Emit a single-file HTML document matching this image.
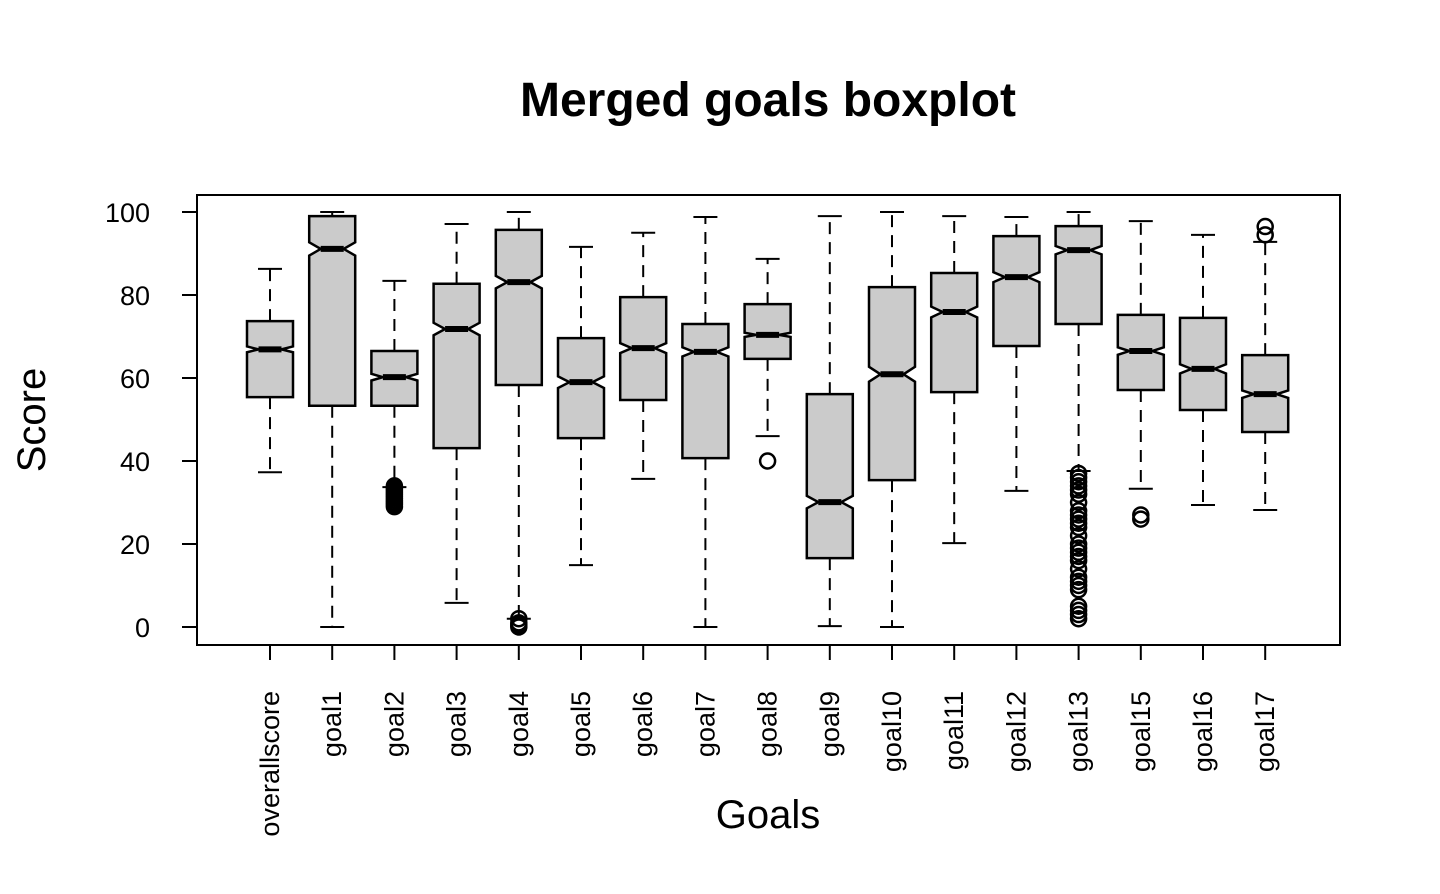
<!DOCTYPE html>
<html><head><meta charset="utf-8"><style>
html,body{margin:0;padding:0;background:#fff;}
svg text{font-family:"Liberation Sans",Arial,sans-serif;fill:#000;}
</style></head><body>
<svg id="chart" width="1440" height="889" viewBox="0 0 1440 889" xmlns="http://www.w3.org/2000/svg">
<rect width="1440" height="889" fill="#fff"/>
<text x="768" y="116" font-size="48" font-weight="bold" text-anchor="middle">Merged goals boxplot</text>
<text x="768" y="828" font-size="40" text-anchor="middle">Goals</text>
<text transform="translate(45,420) rotate(-90)" font-size="40" text-anchor="middle">Score</text>
<rect x="197" y="195" width="1143" height="450" fill="none" stroke="#000" stroke-width="2"/>
<g id="axes"></g>
<g id="boxes"></g>
</svg>
<script>
const categories = ["overallscore","goal1","goal2","goal3","goal4","goal5","goal6","goal7","goal8","goal9","goal10","goal11","goal12","goal13","goal15","goal16","goal17"];
const whiskerLow = [37.3,0,33.7,5.8,2,14.9,35.7,0,46,0.2,0,20.2,32.8,37.6,33.3,29.4,28.2];
const q1Values = [55.4,53.3,53.3,43.1,58.3,45.5,54.7,40.7,64.6,16.6,35.4,56.6,67.7,73,57.1,52.3,47];
const medians = [66.9,91.1,60.2,71.8,83.1,59,67.2,66.3,70.4,30.1,60.9,75.9,84.3,90.8,66.5,62.2,56.1];
const q3Values = [73.7,99,66.5,82.7,95.7,69.6,79.5,73,77.8,56.1,81.9,85.3,94.2,96.6,75.2,74.5,65.5];
const whiskerHigh = [86.3,100,83.4,97.1,100,91.6,95,98.8,88.7,99,100,99,98.8,100,97.8,94.5,92.8];
const notchHalf = [0.7,1.6,0.8,1.5,1.5,1.4,1.2,1.1,0.5,1.5,1.8,1.3,1.2,1,0.9,1.1,0.9];
const outliers = [[],[],[29,29.5,30,30.5,31,31.5,32,32.5,33,33.5,34],[],[0,0.5,1,2],[],[],[],[40],[],[],[],[],
 [2,3,4,5,9,10,11,12,14,16,17,18,19,20,22,24,25,26,27,28,30,32,33,34,35,36,37],[26,27],[],[94.5,96.5]];
const yTicks = [0,20,40,60,80,100];

const NS="http://www.w3.org/2000/svg";
const yS=v=>627-v*4.15;
const xS=i=>270+i*62.2;
function mk(tag,attrs,parent){const e=document.createElementNS(NS,tag);for(const k in attrs)e.setAttribute(k,attrs[k]);parent.appendChild(e);return e;}
const axes=document.getElementById('axes'), boxes=document.getElementById('boxes');

let e=mk('line',{x1:197,x2:197,y1:yS(0),y2:yS(100),stroke:'#000','stroke-width':2},axes);


yTicks.forEach(t=>{
  let l=mk('line',{x1:182,x2:197,y1:yS(t),y2:yS(t),stroke:'#000','stroke-width':2},axes);
  
  
  let tx=mk('text',{x:150,y:yS(t)+10,'font-size':27,'text-anchor':'end'},axes);
  tx.textContent=t;
  
  
});
e=mk('line',{x1:xS(0),x2:xS(categories.length-1),y1:645,y2:645,stroke:'#000','stroke-width':2},axes);


categories.forEach((c,i)=>{
  let l=mk('line',{x1:xS(i),x2:xS(i),y1:645,y2:660,stroke:'#000','stroke-width':2},axes);
  
  
  let tx=mk('text',{transform:`translate(${xS(i)+9},691) rotate(-90)`,'font-size':27,'text-anchor':'end'},axes);
  tx.textContent=c;
  
  
});

categories.forEach((c,i)=>{
  const g=mk('g',{},boxes);
  
  
  const x=xS(i), hw=23, nw=11.5, cw=12;
  const dash={stroke:'#000','stroke-width':2,'stroke-dasharray':'12,8'};
  mk('line',Object.assign({x1:x,x2:x,y1:yS(q3Values[i]),y2:yS(whiskerHigh[i])},dash),g);
  mk('line',Object.assign({x1:x,x2:x,y1:yS(q1Values[i]),y2:yS(whiskerLow[i])},dash),g);
  mk('line',{x1:x-cw,x2:x+cw,y1:yS(whiskerHigh[i]),y2:yS(whiskerHigh[i]),stroke:'#000','stroke-width':2},g);
  mk('line',{x1:x-cw,x2:x+cw,y1:yS(whiskerLow[i]),y2:yS(whiskerLow[i]),stroke:'#000','stroke-width':2},g);
  const t=yS(q3Values[i]),b=yS(q1Values[i]),m=yS(medians[i]);
  const nt=yS(medians[i]+notchHalf[i]),nb=yS(medians[i]-notchHalf[i]);
  const pts=[[x-hw,t],[x+hw,t],[x+hw,nt],[x+nw,m],[x+hw,nb],[x+hw,b],[x-hw,b],[x-hw,nb],[x-nw,m],[x-hw,nt]];
  const p=mk('polygon',{points:pts.map(q=>q.join(',')).join(' '),fill:'#cbcbcb',stroke:'#000','stroke-width':2.5},g);
  
  
  const md=mk('line',{x1:x-nw,x2:x+nw,y1:m,y2:m,stroke:'#000','stroke-width':6},g);
  
  
  outliers[i].forEach(v=>{
    const o=mk('circle',{cx:x,cy:yS(v),r:7.5,fill:'none',stroke:'#000','stroke-width':2.5},g);
    
    
  });
});
</script>
</body></html>
